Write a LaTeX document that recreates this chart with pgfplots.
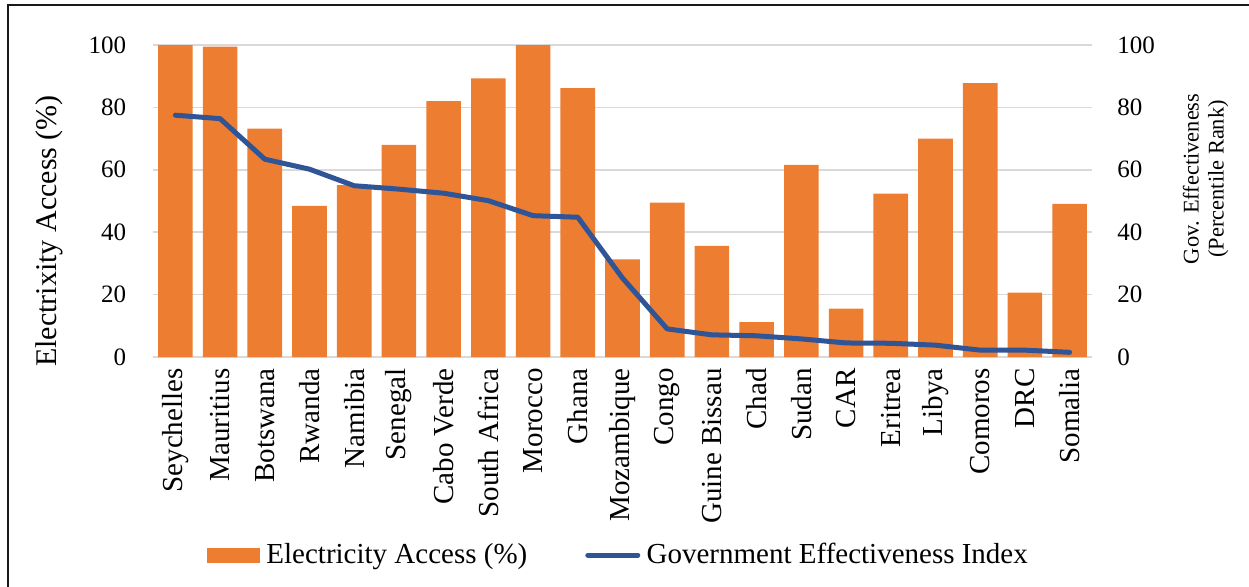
\documentclass[border=0pt]{standalone}
\usepackage{pgfplots}
\usepackage{pgfplotstable}
\pgfplotsset{compat=1.18}
\usepackage{fontspec}
\setmainfont{Liberation Serif}

\definecolor{barorange}{HTML}{ED7D31}
\definecolor{lineblue}{HTML}{2F5597}
\definecolor{gridgray}{HTML}{D9D9D9}

% idx: position of the country, access: electricity access (%),
% gov: government effectiveness (percentile rank)
\pgfplotstableread{
idx access gov
0  100.0 77.5
1  99.5  76.4
2  73.2  63.4
3  48.4  60.2
4  55.1  54.9
5  68.0  53.8
6  82.0  52.5
7  89.3  50.1
8  100.0 45.3
9  86.2  44.8
10 31.3  25.3
11 49.5  9.0
12 35.6  7.1
13 11.2  6.8
14 61.6  5.8
15 15.5  4.5
16 52.4  4.4
17 70.0  3.8
18 87.8  2.2
19 20.6  2.2
20 49.1  1.5
}\datatable

\pgfplotsset{
  frame/.style={
    at={(76.5pt,114.5pt)}, anchor=south west,
    scale only axis, width=469.5pt, height=156pt,
    xmin=-0.5, xmax=20.5, ymin=0, ymax=100,
    ytick={0,20,40,60,80,100},
    yticklabels={0,20,40,60,80,100},
    major tick length=0pt,
    axis line style={draw=none},
    yticklabel style={font=\fontsize{12.5}{15}\selectfont, inner sep=0pt},
  },
}

\begin{document}
\begin{tikzpicture}
\useasboundingbox (0,0) rectangle (624.5pt,293pt);
\begin{scope}
  \clip (0,0) rectangle (624.5pt,293pt);
  \draw[line width=1pt, black!90] (4pt,-5pt) -- (4pt,290.5pt) -- (640pt,290.5pt);
\end{scope}

% left axis: electricity access bars
\begin{axis}[
  frame,
  ymajorgrids, grid style={gridgray, line width=0.75pt},
  xtick={0,...,20},
  xticklabels={Seychelles, Mauritius, Botswana, Rwanda, Namibia, Senegal,
    Cabo Verde, South Africa, Morocco, Ghana, Mozambique, Congo,
    Guine Bissau, Chad, Sudan, CAR, Eritrea, Libya, Comoros, DRC, Somalia},
  xticklabel style={rotate=90, anchor=east, inner sep=0pt,
    font=\fontsize{14.5}{17}\selectfont},
  xticklabel shift=5.5pt,
  yticklabel shift=13.2pt,
  ylabel={Electrixity Access (\%)},
  ylabel style={at={(axis description cs:-0.1105,0.404)}, anchor=center,
    font=\fontsize{15}{18}\selectfont},
]
\addplot[ybar, bar width=17.3pt, fill=barorange, draw=none, bar shift=0pt]
  table[x=idx, y=access]{\datatable};
\end{axis}

% right axis: government effectiveness line
\begin{axis}[
  frame,
  axis y line*=right, axis x line=none,
  yticklabel shift=12.5pt,
  ylabel={Gov. Effectiveness\\(Percentile Rank)},
  ylabel style={at={(axis description cs:1.121,0.571)}, anchor=center,
    align=center, font=\fontsize{11.2}{12.6}\selectfont},
  legend columns=2,
  legend style={at={(axis description cs:0.4947,-0.635)}, anchor=center,
    draw=none, fill=none, inner sep=0pt, outer sep=0pt,
    font=\fontsize{14.5}{17}\selectfont,
    nodes={inner sep=0pt},
    /tikz/every odd column/.append style={column sep=3.2pt},
    /tikz/every even column/.append style={column sep=29pt}},
]
\addlegendimage{legend image code/.code={
  \fill[barorange] (0pt,-3.5pt) rectangle (26pt,3.5pt);}}
\addlegendentry{Electricity Access (\%)}
\addplot[lineblue, line width=2.5pt, line cap=round, line join=round,
  legend image code/.code={
    \draw[lineblue, line width=2.5pt, line cap=round] (1.25pt,0pt) -- (26.25pt,0pt);}]
  table[x=idx, y=gov]{\datatable};
\addlegendentry{Government Effectiveness Index}
\end{axis}
\end{tikzpicture}
\end{document}
